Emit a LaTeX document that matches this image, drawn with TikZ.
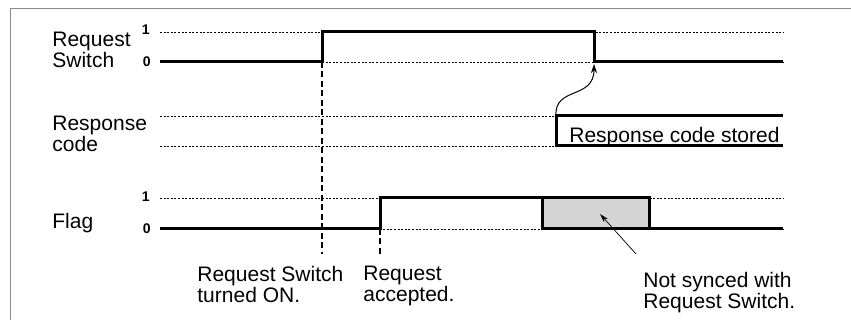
\documentclass[tikz,border=0pt]{standalone}
\usepackage{fontspec}
\setmainfont{Liberation Sans}
\usetikzlibrary{arrows.meta}
\definecolor{cgrey}{HTML}{8A8A8A}
\definecolor{cfill}{HTML}{D4D4D4}
\tikzset{
  every picture/.style={line width=0.8pt},
  sigline/.style={line width=3pt, line join=miter, line cap=butt},
  refline/.style={line width=0.9pt, dash pattern=on 2pt off 1.6pt},
  cueline/.style={line width=1.1pt, dash pattern=on 6pt off 3.5pt},
  frameline/.style={draw=cgrey, line width=0.9pt},
  lbl/.style={font=\fontsize{21}{18}\selectfont, align=left, inner sep=0pt, anchor=north west},
  lvl/.style={font=\fontsize{14}{14}\selectfont\bfseries, inner sep=0pt, anchor=east},
  pointer/.style={-{Stealth[length=9pt, width=6pt]}, line width=1pt},
}

\begin{document}
\begin{tikzpicture}[x=1pt, y=-1pt]
  \useasboundingbox (0,0) rectangle (851,320);
  \draw[frameline] (10,320) -- (10,8) -- (851,8);

  % signal names
  \node[lbl] (rslbl) at (52,32) {Request\\Switch};
  \node[lbl] (rclbl) at (52,116) {Response\\code};
  \node[lbl] (fllbl) at (52,213) {Flag};

  % level marks
  \node[lvl] (rs1) at (150,30) {1};
  \node[lvl] (rs0) at (151,62) {0};
  \node[lvl] (fl1) at (150,197) {1};
  \node[lvl] (fl0) at (151,229) {0};

  % reference levels
  \draw[refline] (160,32) -- (783,32);
  \draw[refline] (160,62) -- (783,62);
  \draw[refline] (160,116) -- (556,116);
  \draw[refline] (160,146) -- (556,146);
  \draw[refline] (160,198) -- (783,198);
  \draw[refline] (160,229) -- (783,229);

  % event markers
  \draw[cueline] (322,62) -- (322,254);
  \draw[cueline] (380,229) -- (380,254);

  % waveforms
  \draw[sigline] (160,62) -- (322,62) -- (322,32) -- (594,32) -- (594,62) -- (783,62);
  \draw[sigline] (783,116) -- (556,116) -- (556,146) -- (783,146);
  \draw[sigline] (160,229) -- (380,229) -- (380,198) -- (542,198);
  \draw[sigline, fill=cfill] (542,198) rectangle (649,229);
  \draw[sigline] (649,229) -- (783,229);

  \node[lbl] (stored) at (569,127) {Response code stored};
  \coordinate (storedon) at (556,116);
  \coordinate (rsoff) at (594,64);
  \draw[pointer] (storedon) .. controls (554,86) and (594,100) .. (rsoff);

  % notes
  \node[lbl] (turnon) at (197,266) {Request Switch\\turned ON.};
  \node[lbl] (accept) at (363,266) {Request\\accepted.};
  \node[lbl] (nosync) at (643,272) {Not synced with\\Request Switch.};
  \coordinate (nosyncend) at (636,254);
  \coordinate (gapbox) at (600,214);
  \draw[-{Stealth[length=9pt, width=5pt]}, line width=0.7pt] (nosyncend) -- (gapbox);
\end{tikzpicture}
\end{document}
